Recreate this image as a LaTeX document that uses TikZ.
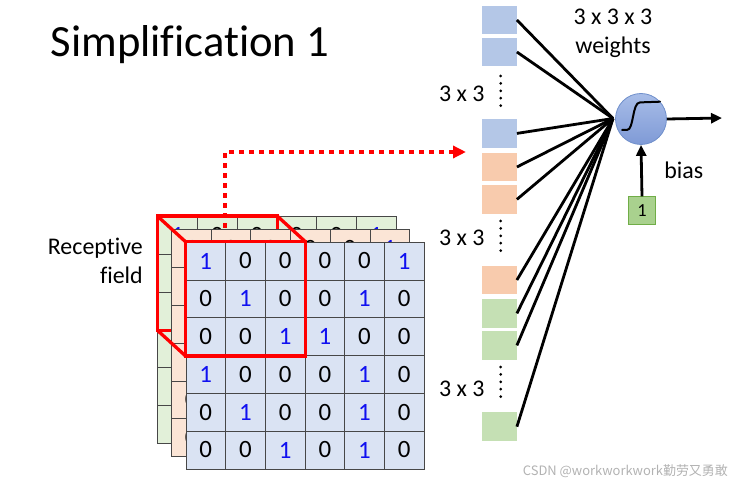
\documentclass[tikz,border=0pt]{standalone}
\usepackage{fontspec}
\setmainfont{Carlito}[RawFeature={-liga;-clig;-calt;-dlig}]
\newfontfamily\cjk{Noto Sans CJK SC}
\usetikzlibrary{arrows.meta}
\definecolor{frontfill}{HTML}{DAE3F3}
\definecolor{peachfill}{HTML}{FBE5D6}
\definecolor{greenfill}{HTML}{E2F0D9}
\definecolor{boxblue}{HTML}{B4C7E7}
\definecolor{boxpeach}{HTML}{F8CBAD}
\definecolor{boxgreen}{HTML}{C5E0B4}
\definecolor{biasfill}{HTML}{A9D18E}
\definecolor{biasdraw}{HTML}{70AD47}
\definecolor{digblue}{HTML}{1010F0}
\definecolor{rfred}{HTML}{FF0000}
\definecolor{neutop}{HTML}{A8BDE8}
\definecolor{neubot}{HTML}{7F9AD6}
\definecolor{neudraw}{HTML}{6F8FCB}
\newcommand\bigtxt{\fontsize{24}{29.3}\selectfont}
\newcommand\digtxt{\fontsize{25}{25}\selectfont}
\newcommand\drawgrid[4]{%
  \foreach \r/\va/\vb/\vc/\vd/\ve/\vf in {0/1/0/0/0/0/1,1/0/1/0/0/1/0,2/0/0/1/1/0/0,3/1/0/0/0/1/0,4/0/1/0/0/1/0,5/0/0/1/0/1/0}{
    \foreach \c/\v in {0/\va,1/\vb,2/\vc,3/\vd,4/\ve,5/\vf}{
      \ifnum\v=1 \def\dcol{digblue}\else\def\dcol{black}\fi
      \node[cell, fill=#3, text=\dcol] (#4-\r-\c) at ({#1+\c*39.7},{#2+\r*37.8}) {\v};
    }}}
\tikzset{
  cell/.style={draw=black!72, line width=0.8bp, minimum width=39.7bp, minimum height=37.8bp,
    inner sep=0, anchor=north west, font=\digtxt},
  redline/.style={draw=rfred, line width=3.3bp, line join=miter},
  reddot/.style={draw=rfred, line width=3.4bp, dash pattern=on 5bp off 5bp,
    -{Triangle[length=13bp,width=12bp,fill=rfred]}},
  wbox/.style={minimum width=34.4bp, minimum height=28.7bp, inner sep=0},
  vdots/.style={draw=black, line width=3bp, line cap=round, dash pattern=on 0bp off 7.4bp},
  wline/.style={draw=black, line width=2.8bp},
  arr/.style={draw=black, line width=2.8bp, -{Triangle[length=11bp,width=10bp]}},
  lbl/.style={inner sep=0, font=\bigtxt},
}
\begin{document}
\begin{tikzpicture}[x=1bp,y=-1bp]
\useasboundingbox (0,0) rectangle (736,484);
% title
\node[inner sep=0, anchor=base west, font=\fontsize{44.8}{50}\selectfont] (title) at (50.5,56.7) {Simplificat\kern0pt ion 1};
% label
\node[lbl, align=right, anchor=south east] (rf) at (143,284) {Recept\kern0pt ive\\field};
% back (green) grid
\drawgrid{157.3}{216}{greenfill}{g}
\draw[redline] (g-0-0.north west) rectangle (g-2-2.south east);
% dotted arrow
\coordinate (rfstart) at (225,228);
\coordinate (rfend) at (466,152);
\draw[reddot] (rfstart) |- (rfend);
% middle (peach) grid
\drawgrid{171}{229.3}{peachfill}{p}
% front grid and cube edges
\drawgrid{185.5}{241.7}{frontfill}{f}
\draw[redline] (g-0-0.north west) -- (f-0-0.north west);
\draw[redline] (g-0-2.north east) -- (f-0-2.north east);
\draw[redline] (g-2-0.south west) -- (f-2-0.south west);
\draw[redline] (f-0-0.north west) rectangle (f-2-2.south east);
% weight boxes
\node[wbox, fill=boxblue]  (w1) at (499.5,20)    {};
\node[wbox, fill=boxblue]  (w2) at (499.5,52)    {};
\node[wbox, fill=boxblue]  (w3) at (499.5,133.4) {};
\node[wbox, fill=boxpeach] (w4) at (499.5,167)   {};
\node[wbox, fill=boxpeach] (w5) at (499.5,199.4) {};
\node[wbox, fill=boxpeach] (w6) at (499.5,280)   {};
\node[wbox, fill=boxgreen] (w7) at (499.5,313.4) {};
\node[wbox, fill=boxgreen] (w8) at (499.5,345.4) {};
\node[wbox, fill=boxgreen] (w9) at (499.5,426.7) {};
\draw[vdots] (500.7,76) -- (500.7,112);
\draw[vdots] (500.7,221) -- (500.7,258);
\draw[vdots] (500.7,367) -- (500.7,404);
\node[lbl, anchor=base] (d1) at (461.7,101.7) {3 x 3};
\node[lbl, anchor=base] (d2) at (461.7,246) {3 x 3};
\node[lbl, anchor=base] (d3) at (461.7,396.7) {3 x 3};
% neuron
\node[circle, minimum size=51bp, inner sep=0, top color=neutop, bottom color=neubot,
  draw=neudraw, line width=0.8bp] (neuron) at (641,119) {};
\begin{scope}[shift={(neuron.center)}]
  \draw[line width=2bp, line cap=round, line join=round] (-19,11) -- (-14,11) .. controls (-7,11) and (-9,-16.6) .. (-1,-16.6) -- (19,-17.3);
\end{scope}
\coordinate (conv) at (613,118.5);
\foreach \i in {1,...,9} \draw[wline] (w\i.east) -- (conv);
\coordinate (outend) at (722,118);
\draw[arr] (neuron.east) -- (outend);
\node[minimum width=27.5bp, minimum height=27.3bp, inner sep=0, fill=biasfill, draw=biasdraw,
  line width=0.9bp, font=\fontsize{18.5}{18.5}\selectfont] (bias1) at (642,210.5) {1};
\draw[arr] (bias1.north) -- (neuron.south);
\node[lbl, anchor=base] (biaslbl) at (683.7,179) {bias};
\node[lbl, align=center, anchor=north] (wlbl) at (613,8.8) {3 x 3 x 3\\weights};
% watermark
\node[inner sep=0, anchor=base east, text=black!30, font=\cjk\fontsize{13}{13}\selectfont] (wm) at (728,475) {CSDN @workworkwork勤劳又勇敢};
\end{tikzpicture}
\end{document}
